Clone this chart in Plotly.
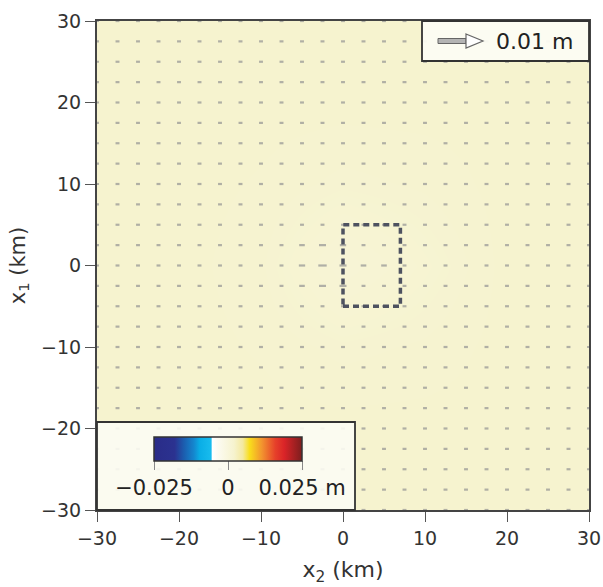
import plotly.graph_objects as go

# ---------------- data ----------------
# displacement field background (m), coarse grid
field_x = [-30, -20, -10, 0, 10, 20, 30]
field_y = [-30, -20, -10, 0, 10, 20, 30]
field_z = [
    [0.0020, 0.0020, 0.0020, 0.0020, 0.0020, 0.0020, 0.0020],
    [0.0020, 0.0020, 0.0020, 0.0020, 0.0020, 0.0020, 0.0020],
    [0.0020, 0.0020, 0.0019, 0.0017, 0.0018, 0.0020, 0.0020],
    [0.0020, 0.0020, 0.0018, 0.0010, 0.0015, 0.0020, 0.0020],
    [0.0020, 0.0020, 0.0019, 0.0017, 0.0018, 0.0020, 0.0020],
    [0.0020, 0.0020, 0.0020, 0.0020, 0.0020, 0.0020, 0.0020],
    [0.0020, 0.0020, 0.0020, 0.0020, 0.0020, 0.0020, 0.0020],
]

# horizontal displacement arrows on a regular station grid (km)
station_x = [-30, -27.5, -25, -22.5, -20, -17.5, -15, -12.5, -10, -7.5, -5, -2.5,
             0, 2.5, 5, 7.5, 10, 12.5, 15, 17.5, 20, 22.5, 25, 27.5, 30]
station_y = [-30, -27.5, -25, -22.5, -20, -17.5, -15, -12.5, -10, -7.5, -5, -2.5,
             0, 2.5, 5, 7.5, 10, 12.5, 15, 17.5, 20, 22.5, 25, 27.5, 30]
# stations with larger arrows near the source (x, y, length in m)
large_arrows = [(-2.5, -2.5, 0.0005), (-2.5, 0, 0.0006), (-2.5, 2.5, 0.0005),
                (0, -2.5, 0.0005), (0, 0, 0.0005), (0, 2.5, 0.00045),
                (-5, 0, 0.00045), (-5, 2.5, 0.0004), (-5, -2.5, 0.0004),
                (2.5, 0, 0.0004), (5, 0, 0.0004)]
base_arrow = 0.00028

# source rectangle (km)
src_x = [0, 7]
src_y = [-5, 5]

# colour bar
cbar_range = [-0.025, 0.025]
cbar_ticks = [-0.025, 0, 0.025]
cbar_ticktext = ["\u22120.025", "0", "0.025 m"]

axis_ticks = [-30, -20, -10, 0, 10, 20, 30]

colorscale = [
    [0.00, "#2a2c88"], [0.14, "#2b3290"], [0.20, "#1c5cae"], [0.27, "#1487cf"],
    [0.31, "#0aaee6"], [0.385, "#18bcee"], [0.395, "#ffffff"], [0.43, "#fcfbf2"],
    [0.54, "#f6f3cf"], [0.60, "#f4e9a0"], [0.645, "#f9de1c"], [0.73, "#f2932f"],
    [0.82, "#e6402a"], [0.88, "#da2428"], [1.00, "#7c1e1e"],
]

FONT = "DejaVu Sans"

# plot area in pixels
L0, R0, T0, B0 = 97, 589, 21, 510
W0, H0 = R0 - L0, B0 - T0


def pxx(p):
    return (p - L0) / W0


def pxy(p):
    return 1 - (p - T0) / H0


fig = go.Figure()

fig.add_trace(go.Heatmap(
    x=field_x, y=field_y, z=field_z, zsmooth="best",
    colorscale=colorscale, zmin=cbar_range[0], zmax=cbar_range[1],
    hoverinfo="skip",
    colorbar=dict(
        orientation="h", x=pxx((154 + 302) / 2), xref="paper",
        xanchor="center", y=pxy(437), yanchor="top",
        len=148 / W0, lenmode="fraction", thickness=24,
        xpad=0, ypad=0,
        outlinecolor="#333333", outlinewidth=1.5,
        tickvals=cbar_ticks, ticktext=cbar_ticktext,
        ticks="outside", ticklen=9, tickcolor="#888888", tickwidth=1,
        tickfont=dict(family=FONT, size=21, color="#222222"),
    ),
))

# arrows: small horizontal marks
big = {(a, b): v for a, b, v in large_arrows}
px, py, ps = [], [], []
for yy in station_y:
    for xx in station_x:
        v = big.get((xx, yy), base_arrow)
        px.append(xx)
        py.append(yy)
        ps.append(v * 10000)
fig.add_trace(go.Scatter(
    x=px, y=py, mode="markers", hoverinfo="skip",
    marker=dict(symbol="line-ew", size=ps, line=dict(color="#939393", width=2.2)),
    showlegend=False,
))

# source rectangle
fig.add_shape(type="rect", x0=src_x[0], x1=src_x[1], y0=src_y[0], y1=src_y[1],
              line=dict(color="#4e5260", width=3.5, dash="6px,4px"), layer="above")

# bottom-left colour bar box
fig.add_shape(type="rect", xref="paper", yref="paper",
              x0=0, x1=pxx(355), y0=0, y1=pxy(422),
              fillcolor="rgba(252,252,243,0.9)", line=dict(color="#333333", width=1.8),
              layer="above")

# top-right scale arrow box
fig.add_shape(type="rect", xref="paper", yref="paper",
              x0=pxx(422), x1=1, y0=pxy(61), y1=1,
              fillcolor="rgba(252,252,243,0.95)", line=dict(color="#333333", width=1.8),
              layer="above")

# scale arrow glyph
ay = 41
shaft = (f"M {pxx(438)} {pxy(ay-2.5)} L {pxx(466)} {pxy(ay-2.5)} "
         f"L {pxx(466)} {pxy(ay+2.5)} L {pxx(438)} {pxy(ay+2.5)} Z")
head = (f"M {pxx(466)} {pxy(ay-7)} L {pxx(483)} {pxy(ay)} L {pxx(466)} {pxy(ay+7)} Z")
fig.add_shape(type="path", xref="paper", yref="paper", path=shaft,
              fillcolor="#b4b4b4", line=dict(color="#666666", width=1), layer="above")
fig.add_shape(type="path", xref="paper", yref="paper", path=head,
              fillcolor="#ffffff", line=dict(color="#666666", width=1.2), layer="above")
fig.add_annotation(xref="paper", yref="paper", x=pxx(534), y=pxy(ay),
                   text="0.01 m", showarrow=False, xanchor="center", yanchor="middle",
                   font=dict(family=FONT, size=22, color="#222222"))

axis_common = dict(
    range=[-30, 30], tickvals=axis_ticks, ticks="outside", ticklen=10,
    tickwidth=1, tickcolor="#555555", showgrid=False, zeroline=False,
    showline=True, linecolor="#444444", linewidth=2, mirror=True,
    tickfont=dict(family=FONT, size=19, color="#333333"),
)

fig.update_xaxes(**axis_common,
                 title=dict(text="x<sub>2</sub> (km)", standoff=14,
                            font=dict(family=FONT, size=22, color="#333333")))
fig.update_yaxes(**axis_common,
                 title=dict(text="x<sub>1</sub> (km)", standoff=10,
                            font=dict(family=FONT, size=21, color="#333333")))

fig.update_layout(
    width=603, height=587,
    margin=dict(l=L0, r=603 - R0, t=T0, b=587 - B0, pad=0, autoexpand=False),
    paper_bgcolor="white", plot_bgcolor="#f6f3cf",
    showlegend=False,
    font=dict(family=FONT, color="#333333"),
)

fig.write_html("out.html")
